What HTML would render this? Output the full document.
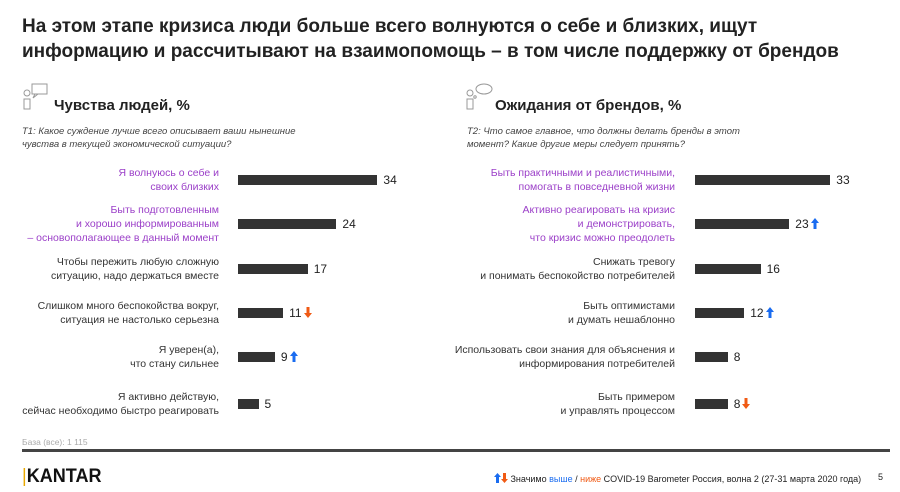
<!DOCTYPE html>
<html><head><meta charset="utf-8">
<style>
body{margin:0;width:900px;height:492px;background:#fff;font-family:"Liberation Sans",sans-serif;position:relative;overflow:hidden;color:#222}
.abs{position:absolute}
.title{left:22px;top:14px;font-size:19px;font-weight:bold;line-height:25px;color:#222}
.h2{font-size:15px;font-weight:bold;color:#222}
.q{font-size:9.5px;font-style:italic;color:#444;line-height:13px}
.lbl{font-size:10.5px;line-height:14px;text-align:right;white-space:nowrap}
.val{font-size:12px;color:#222;white-space:nowrap}
.bar{background:#333;height:10px}
.arr{display:inline-block;vertical-align:-1px;margin-left:2px}
</style></head><body>
<div class="abs title">На этом этапе кризиса люди больше всего волнуются о себе и близких, ищут<br>информацию и рассчитывают на взаимопомощь – в том числе поддержку от брендов</div>

<svg class="abs" style="left:22px;top:83px" width="30" height="30"><circle cx="5" cy="10" r="3" fill="none" stroke="#999"/><path d="M2 16h6v10H2z" fill="none" stroke="#999"/><rect x="10" y="1" width="15" height="10" fill="none" stroke="#999"/><path d="M13 11l-2 4 5-4" fill="none" stroke="#999"/></svg>
<div class="abs h2" style="left:54px;top:97px">Чувства людей, %</div>
<div class="abs q" style="left:22px;top:125px">T1: Какое суждение лучше всего описывает ваши нынешние<br>чувства в текущей экономической ситуации?</div>

<svg class="abs" style="left:465px;top:83px" width="30" height="30"><circle cx="5" cy="10" r="3" fill="none" stroke="#999"/><path d="M2 16h6v10H2z" fill="none" stroke="#999"/><ellipse cx="19" cy="6" rx="8" ry="5" fill="none" stroke="#999"/><circle cx="10" cy="14" r="1.2" fill="none" stroke="#999"/></svg>
<div class="abs h2" style="left:495px;top:97px">Ожидания от брендов, %</div>
<div class="abs q" style="left:467px;top:125px">T2: Что самое главное, что должны делать бренды в этот<br>момент? Какие другие меры следует принять?</div>

<div id="charts"></div>

<div class="abs" style="left:22px;top:437px;font-size:8.5px;color:#aaa">База (все): 1 115</div>
<div class="abs" style="left:22px;top:449px;width:868px;height:3px;background:#444"></div>
<div class="abs" style="left:22px;top:466px;font-size:19px;font-weight:bold;color:#111;transform:scaleX(0.95);transform-origin:left"><span style="color:#e8a800;font-weight:normal">|</span>KANTAR</div>
<div class="abs" style="left:494px;top:473px;font-size:9px;color:#222;white-space:nowrap"><svg width="7" height="10" class="arr" style="margin:0"><path d="M3.5 0L7 4H5v6H2V4H0z" fill="#1a6cf0"/></svg><svg width="7" height="10" class="arr" style="margin:0"><path d="M3.5 10L7 6H5V0H2v6H0z" fill="#f05a14"/></svg> Значимо <span style="color:#1a6cf0">выше</span> / <span style="color:#f05a14">ниже</span> COVID-19 Barometer Россия, волна 2 (27-31 марта 2020 года)</div>
<div class="abs" style="left:878px;top:472px;font-size:9px">5</div>

<script>
const leftLabels=["Я волнуюсь о себе и<br>своих близких","Быть подготовленным<br>и хорошо информированным<br>–  основополагающее в данный момент","Чтобы пережить любую сложную<br>ситуацию, надо держаться вместе","Слишком много беспокойства вокруг,<br>ситуация не настолько серьезна","Я уверен(а),<br>что стану сильнее","Я активно действую,<br>сейчас необходимо быстро реагировать"];
const leftValues=[34,24,17,11,9,5];
const leftSig=["","","","down","up",""];
const leftPurple=[true,true,false,false,false,false];
const rightLabels=["Быть практичными и реалистичными,<br>помогать в повседневной жизни","Активно реагировать на кризис<br>и демонстрировать,<br>что кризис можно преодолеть","Снижать тревогу<br>и понимать беспокойство потребителей","Быть оптимистами<br>и думать нешаблонно","Использовать свои знания для объяснения и<br>информирования потребителей","Быть примером<br>и управлять процессом"];
const rightValues=[33,23,16,12,8,8];
const rightSig=["","up","","up","","down"];
const rightPurple=[true,true,false,false,false,false];

const rowY=[180,224,269,313,357,404];
const scale=4.1;
const UP='<svg width="8" height="11" class="arr"><path d="M4 0L8 5H5.5v6h-3V5H0z" fill="#1a6cf0"/></svg>';
const DN='<svg width="8" height="11" class="arr"><path d="M4 11L8 6H5.5V0h-3v6H0z" fill="#f05a14"/></svg>';
const root=document.getElementById('charts');
function draw(labels,values,sig,purple,x0,labelRight,side){
  labels.forEach((l,i)=>{
    const cy=rowY[i];
    const lines=l.split('<br>').length;
    const lb=document.createElement('div');
    lb.className='abs lbl';
    
    
    lb.style.right=(900-labelRight)+'px';
    lb.style.top=(cy-lines*7)+'px';
    lb.style.color=purple[i]?'#9b3fc8':'#333';
    lb.innerHTML=l;
    root.appendChild(lb);
    const w=values[i]*scale;
    const b=document.createElement('div');
    b.className='abs bar';
    
    
    b.style.left=x0+'px';b.style.top=(cy-5)+'px';b.style.width=w+'px';
    root.appendChild(b);
    const v=document.createElement('div');
    v.className='abs val';
    
    
    v.style.left=(x0+w+6)+'px';v.style.top=(cy-7)+'px';
    v.innerHTML=values[i]+(sig[i]==='up'?UP:sig[i]==='down'?DN:'');
    root.appendChild(v);
  });
}
draw(leftLabels,leftValues,leftSig,leftPurple,238,219,'left');
draw(rightLabels,rightValues,rightSig,rightPurple,695,675,'right');
</script>
</body></html>
